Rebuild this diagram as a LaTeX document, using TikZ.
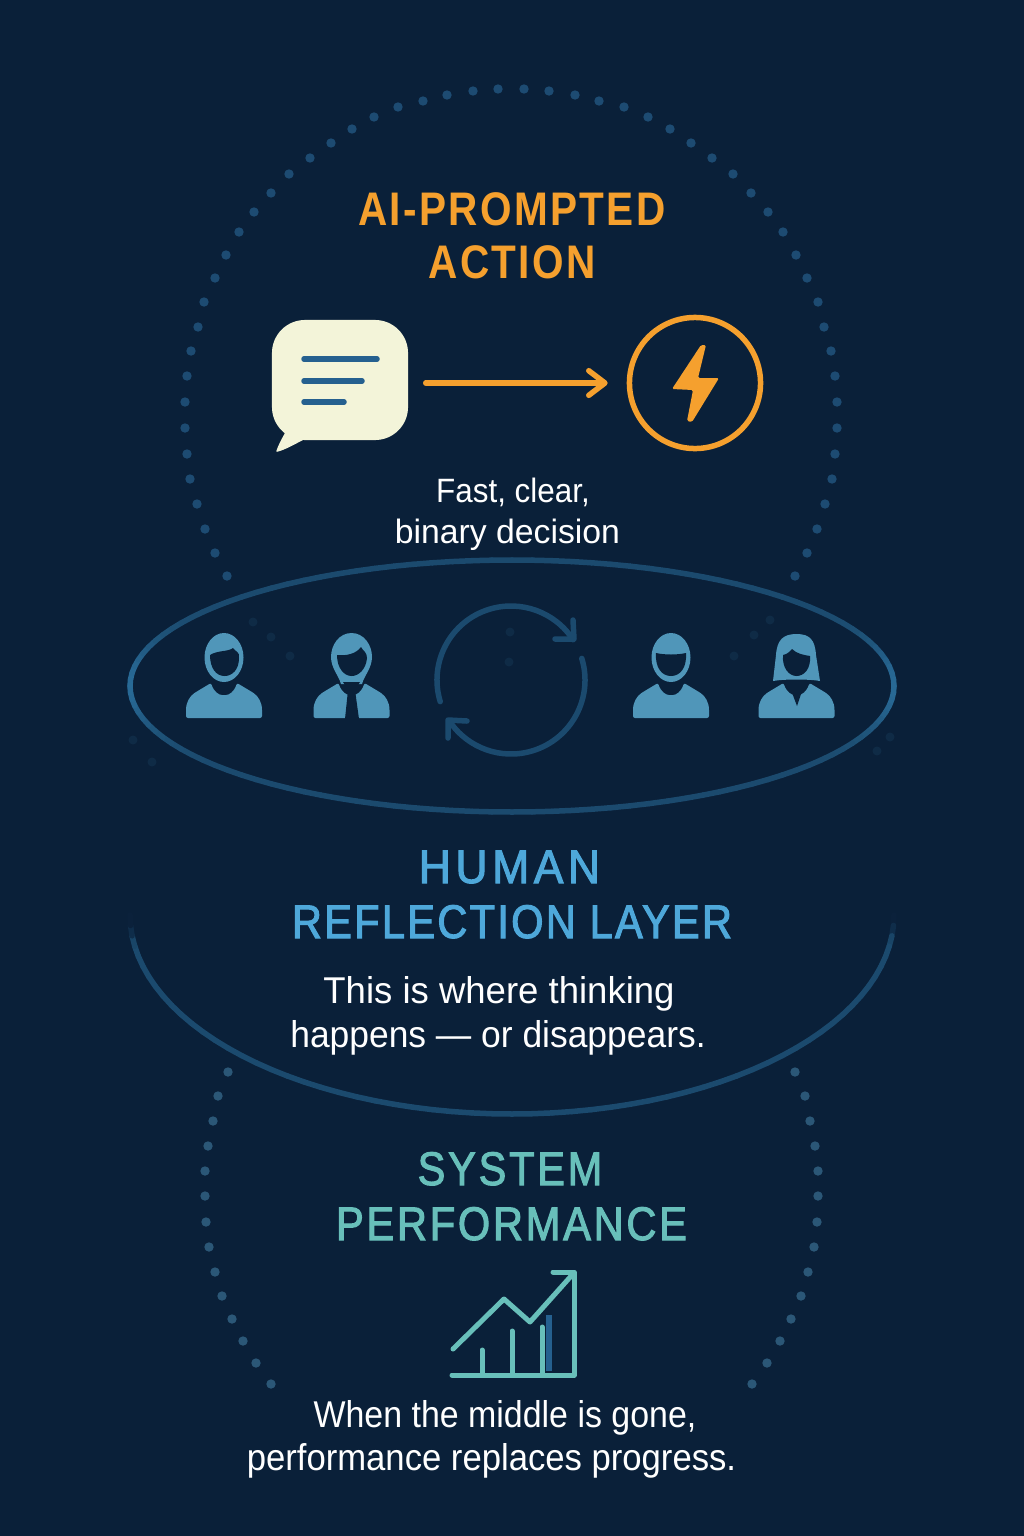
\documentclass[tikz,border=0pt]{standalone}
\usepackage{fontspec}
\setmainfont{Liberation Sans}
\newfontfamily\headfont[FakeBold=2.2]{Liberation Sans}
\newfontfamily\boldhead{Liberation Sans Bold}
\newcommand\squeeze[2]{\addfontfeature{FakeStretch=#1,LetterSpace=#2}}
\usetikzlibrary{arrows.meta}
\definecolor{nightbg}{HTML}{0A2039}
\definecolor{actionorange}{HTML}{F5A02E}
\definecolor{bubblecream}{HTML}{F3F4D9}
\definecolor{linkblue}{HTML}{25608F}
\definecolor{dotblue}{HTML}{1D4B72}
\definecolor{dotlow}{HTML}{2B5777}
\definecolor{dotfaint}{HTML}{0F2B46}
\definecolor{ringbright}{HTML}{286A96}
\definecolor{ringdim}{HTML}{1B4A6E}
\definecolor{personblue}{HTML}{5096B9}
\definecolor{humanblue}{HTML}{4EA8DA}
\definecolor{systemteal}{HTML}{68BFBA}
\tikzset{
	bodytext/.style={text=white, anchor=base, inner sep=0pt, font=\fontsize{10.6pt}{12pt}\selectfont},
	smalltext/.style={bodytext, font=\fontsize{9.6pt}{12pt}\selectfont},
	headtext/.style={anchor=base, inner sep=0pt, font=\fontsize{13.4pt}{15pt}\headfont},
	orangetext/.style={headtext, text=actionorange, font=\fontsize{13.4pt}{15pt}\boldhead},
	bubblebox/.style={fill=bubblecream, rounded corners=0.33cm, minimum width=1.36cm, minimum height=1.2cm, inner sep=0pt},
	boltring/.style={circle, draw=actionorange, line width=0.055cm, minimum size=1.31cm, inner sep=0pt},
	flow/.style={actionorange, line width=0.055cm, line cap=round, -{Straight Barb[round,length=4.6pt,width=7pt]}},
	textline/.style={linkblue, line width=0.055cm, line cap=round},
	cycleline/.style={ringdim, line width=0.055cm, line cap=round, line join=round},
	chartline/.style={systemteal, line width=0.05cm, line cap=round, line join=round},
	shoulders/.pic={
		\fill[personblue, rounded corners=0.02cm] (-38,718) -- (-38,712) .. controls (-38,702) and (-34,696) .. (-28,692) -- (-13,683) .. controls (-10,692) and (-5,695) .. (0,695) .. controls (5,695) and (10,692) .. (13,683) -- (28,692) .. controls (34,696) and (38,702) .. (38,712) -- (38,718) -- cycle;
	},
	roundhead/.pic={
		\fill[personblue] (0,657.5) ellipse (19.5 and 24.5);
	},
}
\begin{document}
\begin{tikzpicture}[x=0.01cm, y=-0.01cm]
	\useasboundingbox (0,0) rectangle (1024,1536);
	\fill[nightbg] (0,0) rectangle (1024,1536);

	% dotted rings
	\foreach \x/\y in {498/89,473/91,447/95,423/101,398/107,374/117,352/129,331/143,310/158,289/174,271/193,254/212,239/232,226/255,215/278,204/302,198/327,191/351,187/376,185/402,185/428,187/454,190/479,197/504,205/529,215/553,227/576}{
		\fill[dotblue] (\x,\y) circle (4.7);
		\fill[dotblue] ({1022-\x},\y) circle (4.7);
	}
	\foreach \x/\y in {228/1072,218/1096,213/1121,208/1146,205/1171,205/1196,206/1222,209/1247,215/1272,222/1296,232/1319,243/1341,256/1363,271/1384}{
		\fill[dotlow] (\x,\y) circle (4.7);
		\fill[dotlow] ({1023-\x},\y) circle (4.7);
	}
	\foreach \x/\y in {253/622,271/637,290/656,133/740,152/762,770/620,754/635,734/656,890/737,877/751,510/632,509/662}{
		\fill[dotfaint] (\x,\y) circle (4.5);
	}

	% middle layer
	\foreach \a in {0,3,...,357}{
		\pgfmathsetmacro\mix{100*abs(cos(\a))^16}
		\draw[ringbright!\mix!ringdim, line width=0.055cm, line cap=round] ({512+382*cos(\a)},{686+126*sin(\a)}) -- ({512+382*cos(\a+3)},{686+126*sin(\a+3)});
	}
	\foreach \a in {0,3,...,177}{
		\pgfmathsetmacro\mix{100*min(1,(sin(\a+1.5)/0.14)^2)}
		\draw[ringdim!\mix!nightbg, line width=0.055cm, line cap=round] ({512+382*cos(\a)},{915+199*sin(\a)}) -- ({512+382*cos(\a+3)},{915+199*sin(\a+3)});
	}

	% top section
	\node[orangetext] (prompted) at (512,225) {\squeeze{0.86}{5}AI-PROMPTED};
	\node[orangetext] (action) at (512,278) {\squeeze{0.86}{5}ACTION};
	\node[bubblebox] (bubble) at (340,380) {};
	\fill[bubblecream, rounded corners=0.01cm] (283,425) -- (285,433) .. controls (281,440) and (278,446) .. (276,452) .. controls (285,450) and (295,444) .. (305,439) -- cycle;
	\draw[textline] (304,359) -- (377,359);
	\draw[textline] (304,381) -- (362,381);
	\draw[textline] (304,402) -- (344,402);
	\node[boltring] (bolt) at (695,383) {};
	\fill[actionorange, rounded corners=0.015cm] (701,345) -- (706,345) -- (698,378) -- (719,378) -- (692,422) -- (687,421) -- (693,390) -- (672,389) -- cycle;
	\draw[flow, shorten <=0.17cm, shorten >=0.19cm] (bubble.east |- bolt) -- (bolt);
	\node[smalltext] (fast) at (513,502) {\squeeze{0.93}{0}Fast, clear,};
	\node[smalltext] (binary) at (507.5,543) {binary decision};

	% people and cycle
	\pic at (224,0) {shoulders};
	\pic at (224,0) {roundhead};
	\fill[nightbg] (210,655) .. controls (218,650) and (228,652) .. (233,648) .. controls (236,652) and (240,652) .. (239,658) .. controls (239,670) and (232,676) .. (224.5,676) .. controls (216,676) and (210,668) .. (210,655);

	\pic at (351.5,0) {shoulders};
	\fill[personblue] (351.5,633) .. controls (364,633) and (372,645) .. (372,657) .. controls (372,668) and (364,676) .. (362,684) -- (341,684) .. controls (339,676) and (331,668) .. (331,657) .. controls (331,645) and (339,633) .. (351.5,633) -- cycle;
	\fill[nightbg] (337,655) .. controls (346,656) and (356,654) .. (361,647) .. controls (363,651) and (367,652) .. (367,658) .. controls (366,669) and (359,676) .. (351.5,676) .. controls (344,676) and (337,668) .. (337,655);
	\fill[nightbg] (343,682) -- (360,682) -- (355,690) -- (359,719) -- (345,719) -- (348,690) -- cycle;

	\pic at (671,0) {shoulders};
	\pic at (671,0) {roundhead};
	\fill[nightbg] (656,653) .. controls (665,655) and (677,655) .. (686,653) .. controls (687,668) and (680,676) .. (671,676) .. controls (662,676) and (655,668) .. (656,653);

	\pic at (796.5,0) {shoulders};
	\fill[personblue] (796.5,634) .. controls (810,634) and (815,640) .. (816,655) -- (820,681) .. controls (810,679) and (783,679) .. (773,681) -- (776,655) .. controls (777,640) and (783,634) .. (796.5,634) -- cycle;
	\fill[nightbg] (783,655) .. controls (788,654) and (790,651) .. (792,649) .. controls (797,654) and (804,655) .. (810,656) .. controls (811,669) and (804,676) .. (796.5,676) .. controls (789,676) and (782,668) .. (783,655);
	\fill[nightbg] (788,682) -- (805,682) -- (797,706) -- cycle;

	\draw[cycleline] (511,680) ++(163:74) arc (163:327:74);
	\draw[cycleline] (511,680) ++(-17:74) arc (-17:146:74);
	\draw[cycleline] (573,620) -- (574,639) -- (555,639);
	\draw[cycleline] (448,738) -- (448,720) -- (467,721);

	% human reflection
	\node[headtext, text=humanblue] (human) at (509.5,883) {\squeeze{0.94}{10}HUMAN};
	\node[headtext, text=humanblue] (reflection) at (512,938) {\squeeze{0.88}{5}REFLECTION LAYER};
	\node[bodytext] (thinking) at (499,1003) {\squeeze{0.98}{0}This is where thinking};
	\node[bodytext] (happens) at (498,1047) {\squeeze{0.95}{0}happens — or disappears.};

	% system performance
	\node[headtext, text=systemteal] (system) at (510,1185) {\squeeze{0.88}{6}SYSTEM};
	\node[headtext, text=systemteal] (performance) at (511.5,1240) {\squeeze{0.88}{6}PERFORMANCE};
	\draw[linkblue, line width=0.06cm] (549,1371) -- (549,1315);
	\draw[chartline] (482,1375) -- (482,1350);
	\draw[chartline] (512,1375) -- (512,1331);
	\draw[chartline] (542,1375) -- (542,1327);
	\draw[chartline] (452,1375) -- (574,1375) -- (574,1272) -- (553,1272);
	\draw[chartline] (453,1349) -- (504,1299) -- (530,1322) -- (572,1275);
	\node[bodytext] (middle) at (505,1427) {\squeeze{0.91}{0}When the middle is gone,};
	\node[bodytext] (progress) at (491.5,1470) {\squeeze{0.93}{0}performance replaces progress.};
\end{tikzpicture}
\end{document}
